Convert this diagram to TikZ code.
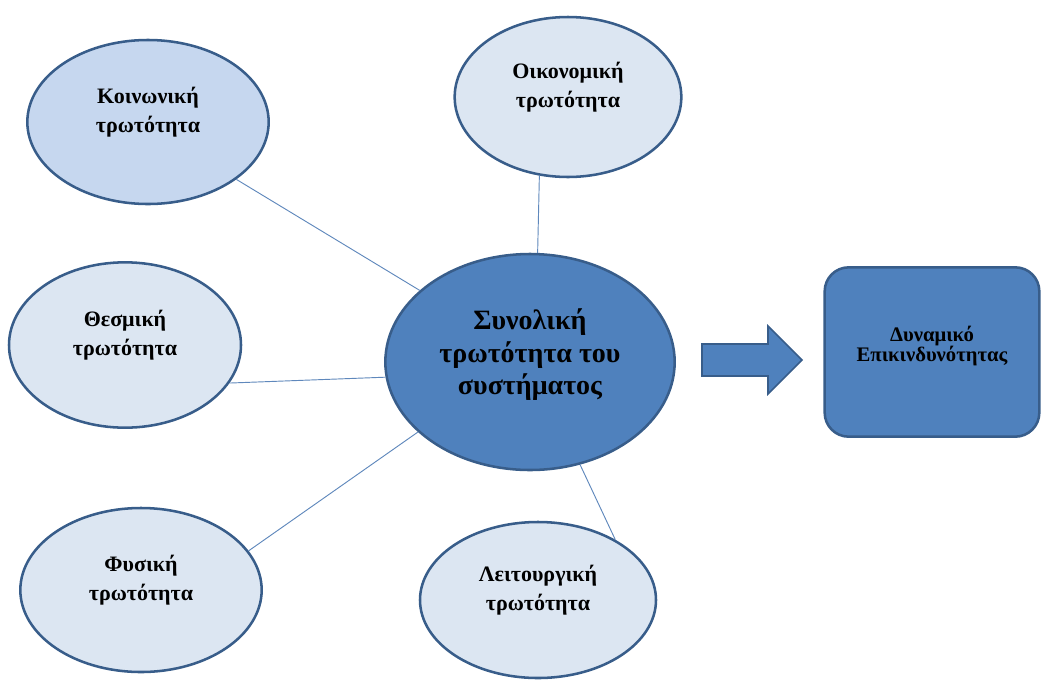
\documentclass[tikz,border=0pt]{standalone}
\usepackage{fontspec}
\setmainfont{Liberation Serif}
\usetikzlibrary{shapes.geometric,positioning}
\definecolor{vulnedge}{HTML}{385D8A}
\definecolor{vulnpale}{HTML}{DCE6F2}
\definecolor{vulnsoft}{HTML}{C6D7EF}
\definecolor{vulnmid}{HTML}{4F81BD}
\definecolor{vulnlink}{HTML}{5F88BC}

\begin{document}
\begin{tikzpicture}[x=0.75pt,y=-0.75pt,
    sat/.style={ellipse,draw=vulnedge,line width=1.9pt,fill=vulnpale,inner sep=0pt},
    lbl/.style={font=\bfseries\fontsize{16.5}{22}\selectfont,align=center,yshift=7.5pt},
    link/.style={draw=vulnlink,line width=0.7pt}]
    \useasboundingbox (0,0) rectangle (1043,679);
    % satellite vulnerabilities
    \node[sat,fill=vulnsoft,minimum width=181pt,minimum height=123pt] (soc) at (148,122)
      [label={[lbl]center:Κοινωνική\\τρωτότητα}] {};
    \node[sat,minimum width=170pt,minimum height=120pt] (eco) at (568,97)
      [label={[lbl]center:Οικονομική\\τρωτότητα}] {};
    \node[sat,minimum width=174pt,minimum height=124pt] (ins) at (125,345)
      [label={[lbl]center:Θεσμική\\τρωτότητα}] {};
    \node[sat,minimum width=181pt,minimum height=123pt] (phy) at (141,590)
      [label={[lbl]center:Φυσική\\τρωτότητα}] {};
    \node[sat,minimum width=177pt,minimum height=117pt] (fun) at (538,600)
      [label={[lbl]center:Λειτουργική\\τρωτότητα}] {};
    % total vulnerability
    \node[sat,fill=vulnmid,minimum width=217pt,minimum height=162pt] (tot) at (530,362)
      [label={[lbl,font=\bfseries\fontsize{21}{24.5}\selectfont,yshift=-2pt]center:Συνολική\\τρωτότητα του\\συστήματος}] {};
    % risk potential
    \node[draw=vulnedge,line width=1.9pt,fill=vulnmid,rounded corners=18pt,
      minimum width=161pt,minimum height=127pt] (risk) at (932,352)
      [label={[lbl,font=\bfseries\fontsize{15.5}{15}\selectfont,yshift=-3pt]center:Δυναμικό\\Επικινδυνότητας}] {};
    \draw[link] (soc.-33) -- (tot.147);
    \draw[link] (eco.-110) -- (tot.86);
    \draw[link] (ins.-20) -- (tot.186);
    \draw[link] (phy.20) -- (tot.212);
    \draw[link] (fun.38) -- (tot.-64);
    % block arrow
    \draw[vulnedge,line width=1.2pt,fill=vulnmid]
      (702,344) -- (768,344) -- (768,326) -- (802,360) -- (768,394) -- (768,376) -- (702,376) -- cycle;
\end{tikzpicture}
\end{document}
